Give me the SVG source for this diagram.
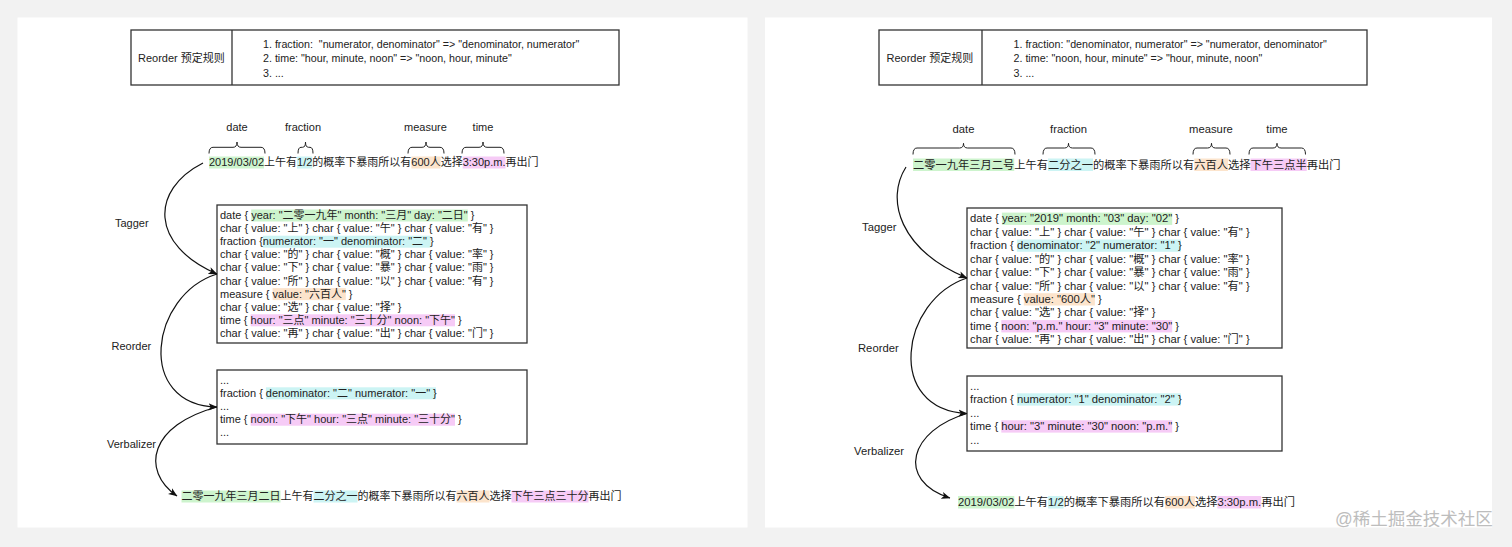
<svg xmlns="http://www.w3.org/2000/svg" width="1512" height="547" viewBox="0 0 1512 547">
<defs>
<style>
text { font-family: "Liberation Sans", "Noto Sans CJK SC", sans-serif; fill: #222; font-size: 11px; }
.r { font-size: 11.25px; }
.rule { font-size: 10.7px; }
.box { fill: #fff; stroke: #333; stroke-width: 1.3; }
.g { fill: #cdf4cd; } .c { fill: #ccf4f4; } .o { fill: #fce4cc; } .p { fill: #f6cbf6; }
.conn { fill: none; stroke: #111; stroke-width: 1.2; }
.brace { fill: none; stroke: #222; stroke-width: 1; }
.wm { font-size: 17.5px; fill: #bdbdbd; }
</style>
<marker id="arr" viewBox="0 0 10 10" refX="9.5" refY="5" markerWidth="9" markerHeight="9" markerUnits="userSpaceOnUse" orient="auto">
<path d="M0,1 L10,5 L0,9 L2.5,5 z" fill="#111"/>
</marker>
</defs>
<rect x="0" y="0" width="1512" height="547" fill="#f2f2f2"/>
<rect x="17.5" y="17.5" width="730" height="510" fill="#fff"/>
<rect x="765" y="17.5" width="727" height="510" fill="#fff"/>

<!-- LEFT PANEL -->
<g id="left-rules">
<rect class="box" x="131" y="30" width="488" height="55"/>
<line x1="232" y1="30" x2="232" y2="85" stroke="#333" stroke-width="1.3"/>
<text x="138" y="62">Reorder 预定规则</text>
<text class="rule" x="263" y="48" xml:space="preserve">1. fraction:  "numerator, denominator" =&gt; "denominator, numerator"</text>
<text class="rule" x="263" y="62.3">2. time: "hour, minute, noon" =&gt; "noon, hour, minute"</text>
<text class="rule" x="263" y="76.6">3. ...</text>
</g>

<g id="left-labels">
<text x="237" y="131" text-anchor="middle">date</text>
<text x="303" y="131" text-anchor="middle">fraction</text>
<text x="425.5" y="131" text-anchor="middle">measure</text>
<text x="483" y="131" text-anchor="middle">time</text>
<path class="brace" d="M209 153.5 Q209 147.3 213 147.3 L233 147.3 Q237 147.3 237 142 Q237 147.3 241 147.3 L261 147.3 Q265 147.3 265 153.5"/>
<path class="brace" d="M298 153.5 Q298 147.3 301 147.3 L302.5 147.3 Q305.5 147.3 305.5 142 Q305.5 147.3 308.5 147.3 L310 147.3 Q313 147.3 313 153.5"/>
<path class="brace" d="M408 153.5 Q408 147.3 412 147.3 L422 147.3 Q426 147.3 426 142 Q426 147.3 430 147.3 L440 147.3 Q444 147.3 444 153.5"/>
<path class="brace" d="M462 153.5 Q462 147.3 466 147.3 L479 147.3 Q483 147.3 483 142 Q483 147.3 487 147.3 L500 147.3 Q504 147.3 504 153.5"/>
</g>

<g id="left-input">
<rect class="g" x="209" y="156.5" width="55" height="12"/>
<rect class="c" x="297" y="156.5" width="15.3" height="12"/>
<rect class="o" x="411.3" y="156.5" width="29.4" height="12"/>
<rect class="p" x="462.7" y="156.5" width="42.8" height="12"/>
<text x="209" y="166">2019/03/02上午有1/2的概率下暴雨所以有600人选择3:30p.m.再出门</text>
</g>

<g id="left-tagger-output">
<rect class="box" x="217" y="205" width="310" height="138"/>
<rect class="g" x="251.2" y="209.5" width="216.6" height="12"/>
<rect class="c" x="262.8" y="235.7" width="168" height="12"/>
<rect class="o" x="272.6" y="288.1" width="73.2" height="12"/>
<rect class="p" x="250.6" y="314.3" width="204.4" height="12"/>
<text x="220" y="219">date { year: "二零一九年" month: "三月" day: "二日" }</text>
<text x="220" y="232.1">char { value: "上" } char { value: "午" } char { value: "有" }</text>
<text x="220" y="245.2">fraction {numerator: "一" denominator: "二" }</text>
<text x="220" y="258.3">char { value: "的" } char { value: "概" } char { value: "率" }</text>
<text x="220" y="271.4">char { value: "下" } char { value: "暴" } char { value: "雨" }</text>
<text x="220" y="284.5">char { value: "所" } char { value: "以" } char { value: "有" }</text>
<text x="220" y="297.6">measure { value: "六百人" }</text>
<text x="220" y="310.7">char { value: "选" } char { value: "择" }</text>
<text x="220" y="323.8">time { hour: "三点" minute: "三十分" noon: "下午" }</text>
<text x="220" y="336.9">char { value: "再" } char { value: "出" } char { value: "门" }</text>
</g>

<g id="left-reorder-output">
<rect class="box" x="217" y="370" width="310" height="74"/>
<rect class="c" x="265.9" y="387.3" width="170.1" height="12"/>
<rect class="p" x="250.6" y="413.7" width="204.4" height="12"/>
<text x="220" y="383.6">...</text>
<text x="220" y="396.8">fraction { denominator: "二" numerator: "一" }</text>
<text x="220" y="410">...</text>
<text x="220" y="423.2">time { noon: "下午" hour: "三点" minute: "三十分" }</text>
<text x="220" y="436.4">...</text>
</g>

<g id="left-output">
<rect class="g" x="181.5" y="490.5" width="99" height="12"/>
<rect class="c" x="313.5" y="490.5" width="44" height="12"/>
<rect class="o" x="456.5" y="490.5" width="33" height="12"/>
<rect class="p" x="511.5" y="490.5" width="77" height="12"/>
<text x="181.5" y="500">二零一九年三月二日上午有二分之一的概率下暴雨所以有六百人选择下午三点三十分再出门</text>
</g>

<g id="left-connectors">
<path class="conn" d="M203 163 C150 190, 150 245, 217 274" marker-end="url(#arr)"/>
<path class="conn" d="M217 274 C150 295, 135 405, 217 407" marker-end="url(#arr)"/>
<path class="conn" d="M217 407 C150 425, 140 470, 177 496" marker-end="url(#arr)"/>
<text x="115" y="226.5">Tagger</text>
<text x="111.5" y="350">Reorder</text>
<text x="107" y="447.5">Verbalizer</text>
</g>

<!-- RIGHT PANEL -->
<g id="right-rules">
<rect class="box" x="879" y="30" width="488" height="55"/>
<line x1="982" y1="30" x2="982" y2="85" stroke="#333" stroke-width="1.3"/>
<text x="886.5" y="62">Reorder 预定规则</text>
<text class="rule" x="1013.5" y="48">1. fraction: "denominator, numerator" =&gt; "numerator, denominator"</text>
<text class="rule" x="1013.5" y="62.3">2. time: "noon, hour, minute" =&gt; "hour, minute, noon"</text>
<text class="rule" x="1013.5" y="76.6">3. ...</text>
</g>

<g id="right-labels">
<text class="r" x="963.5" y="133" text-anchor="middle">date</text>
<text class="r" x="1068.5" y="133" text-anchor="middle">fraction</text>
<text class="r" x="1211" y="133" text-anchor="middle">measure</text>
<text class="r" x="1277" y="133" text-anchor="middle">time</text>
<path class="brace" d="M913 154.5 Q913 148 917 148 L959.5 148 Q963.5 148 963.5 143.3 Q963.5 148 967.5 148 L1011 148 Q1015 148 1015 154.5"/>
<path class="brace" d="M1043 154.5 Q1043 148 1047 148 L1064.5 148 Q1068.5 148 1068.5 143.3 Q1068.5 148 1072.5 148 L1091 148 Q1095 148 1095 154.5"/>
<path class="brace" d="M1193 154.5 Q1193 148 1197 148 L1207.5 148 Q1211.5 148 1211.5 143.3 Q1211.5 148 1215.5 148 L1226 148 Q1230 148 1230 154.5"/>
<path class="brace" d="M1249 154.5 Q1249 148 1253 148 L1273 148 Q1277 148 1277 143.3 Q1277 148 1281 148 L1301.5 148 Q1305.5 148 1305.5 154.5"/>
</g>

<g id="right-input">
<rect class="g" x="913" y="158.5" width="101.25" height="12.5"/>
<rect class="c" x="1048" y="158.5" width="45" height="12.5"/>
<rect class="o" x="1194.25" y="158.5" width="33.75" height="12.5"/>
<rect class="p" x="1250.5" y="158.5" width="56.25" height="12.5"/>
<text class="r" x="913" y="168.5">二零一九年三月二号上午有二分之一的概率下暴雨所以有六百人选择下午三点半再出门</text>
</g>

<g id="right-tagger-output">
<rect class="box" x="967" y="208" width="315" height="140"/>
<rect class="g" x="1001.9" y="212.6" width="170.3" height="12.3"/>
<rect class="c" x="1016.9" y="239.5" width="164" height="12.3"/>
<rect class="o" x="1023.8" y="293.2" width="71.1" height="12.3"/>
<rect class="p" x="1001.3" y="320.1" width="170.9" height="12.3"/>
<text class="r" x="970" y="222.3">date { year: "2019" month: "03" day: "02" }</text>
<text class="r" x="970" y="235.7">char { value: "上" } char { value: "午" } char { value: "有" }</text>
<text class="r" x="970" y="249.2">fraction { denominator: "2" numerator: "1" }</text>
<text class="r" x="970" y="262.6">char { value: "的" } char { value: "概" } char { value: "率" }</text>
<text class="r" x="970" y="276.1">char { value: "下" } char { value: "暴" } char { value: "雨" }</text>
<text class="r" x="970" y="289.5">char { value: "所" } char { value: "以" } char { value: "有" }</text>
<text class="r" x="970" y="302.9">measure { value: "600人" }</text>
<text class="r" x="970" y="316.4">char { value: "选" } char { value: "择" }</text>
<text class="r" x="970" y="329.8">time { noon: "p.m." hour: "3" minute: "30" }</text>
<text class="r" x="970" y="343.3">char { value: "再" } char { value: "出" } char { value: "门" }</text>
</g>

<g id="right-reorder-output">
<rect class="box" x="967" y="376" width="315" height="75"/>
<rect class="c" x="1016.9" y="393.3" width="164" height="12.3"/>
<rect class="p" x="1001.3" y="420.3" width="170.9" height="12.3"/>
<text class="r" x="970" y="389.5">...</text>
<text class="r" x="970" y="403">fraction { numerator: "1" denominator: "2" }</text>
<text class="r" x="970" y="416.5">...</text>
<text class="r" x="970" y="430">time { hour: "3" minute: "30" noon: "p.m." }</text>
<text class="r" x="970" y="443.5">...</text>
</g>

<g id="right-output">
<rect class="g" x="958" y="496" width="56.3" height="12.5"/>
<rect class="c" x="1048.05" y="496" width="15.6" height="12.5"/>
<rect class="o" x="1164.9" y="496" width="30" height="12.5"/>
<rect class="p" x="1217.4" y="496" width="43.8" height="12.5"/>
<text class="r" x="958" y="506">2019/03/02上午有1/2的概率下暴雨所以有600人选择3:30p.m.再出门</text>
</g>

<g id="right-connectors">
<path class="conn" d="M906 167 C885 200, 900 250, 967 278" marker-end="url(#arr)"/>
<path class="conn" d="M967 278 C900 300, 885 410, 967 413.5" marker-end="url(#arr)"/>
<path class="conn" d="M967 413.5 C910 430, 895 480, 950 498" marker-end="url(#arr)"/>
<text class="r" x="862" y="230.5">Tagger</text>
<text class="r" x="858" y="351.5">Reorder</text>
<text class="r" x="854" y="455">Verbalizer</text>
</g>

<text class="wm" x="1335" y="525">@稀土掘金技术社区</text>
</svg>
